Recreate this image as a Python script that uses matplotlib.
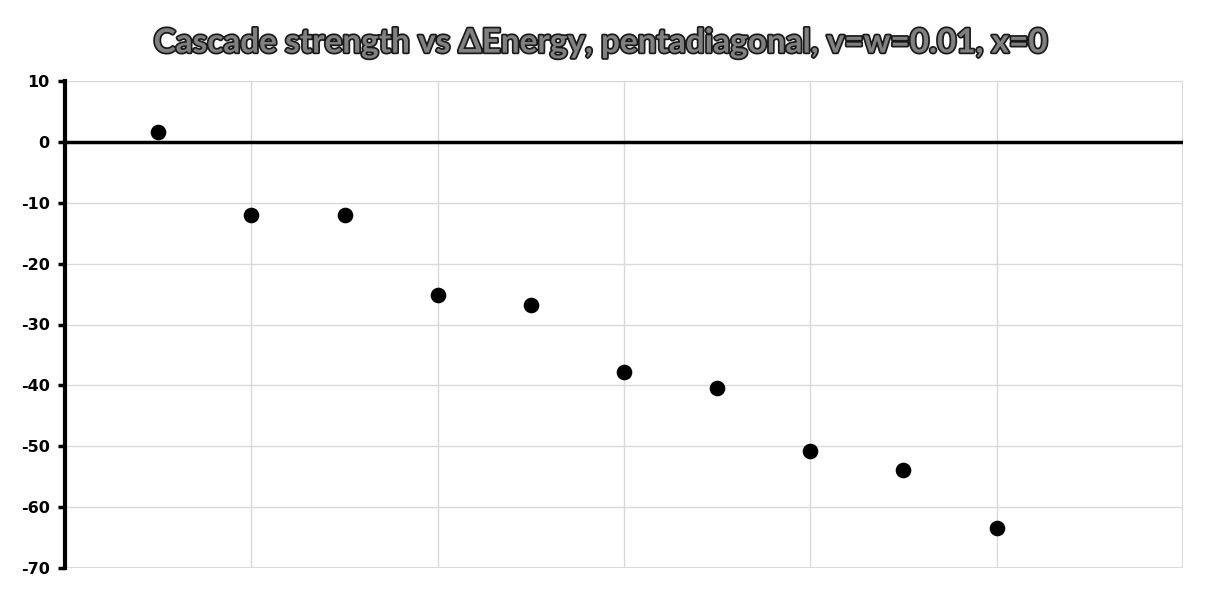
import matplotlib
matplotlib.use("Agg")
import matplotlib.pyplot as plt
import matplotlib.patheffects as pe

plt.rcParams['axes.unicode_minus'] = False

title = "Cascade strength vs ΔEnergy, pentadiagonal, v=w=0.01, x=0"
x_vals = [1, 2, 3, 4, 5, 6, 7, 8, 9, 10]
y_vals = [1.6, -12.0, -12.0, -25.1, -26.8, -37.8, -40.4, -50.7, -53.9, -63.5]
y_ticks = [10, 0, -10, -20, -30, -40, -50, -60, -70]
x_grid = [0, 2, 4, 6, 8, 10, 12]

fig = plt.figure(figsize=(12.13, 6.0), dpi=100)
ax = fig.add_axes([65/1213, 1-568/600, (1183-65)/1213, (568-81)/600])

ax.set_xlim(0, 12)
ax.set_ylim(-70, 10)
ax.set_yticks(y_ticks)
ax.set_xticks(x_grid)
ax.tick_params(axis='x', length=0, labelbottom=False)
ax.tick_params(axis='y', length=5, width=2.5, direction='out', pad=6)
for lab in ax.get_yticklabels():
    lab.set_fontweight('bold')
    lab.set_fontsize(11.5)
    lab.set_family('DejaVu Sans')

ax.grid(True, color='#d9d9d9', linewidth=1)
ax.set_axisbelow(True)
for s in ['top', 'right', 'bottom']:
    ax.spines[s].set_visible(False)
ax.spines['left'].set_linewidth(3)
ax.spines['left'].set_color('black')
ax.axhline(0, color='black', linewidth=2.5, zorder=2)
ax.axvline(12, color='#d9d9d9', linewidth=1.5, zorder=1)
ax.axhline(-70, color='#d9d9d9', linewidth=1.5, zorder=1)

ax.scatter(x_vals, y_vals, s=105, color='black', zorder=3, clip_on=False)

fig.text(601/1213, 1-43/600, title, ha='center', va='center', fontsize=24,
         fontweight='bold', family='Lato', color='#808080',
         path_effects=[pe.withStroke(linewidth=2.5, foreground='#1a1a1a')])

fig.savefig("out.png", dpi=100)
